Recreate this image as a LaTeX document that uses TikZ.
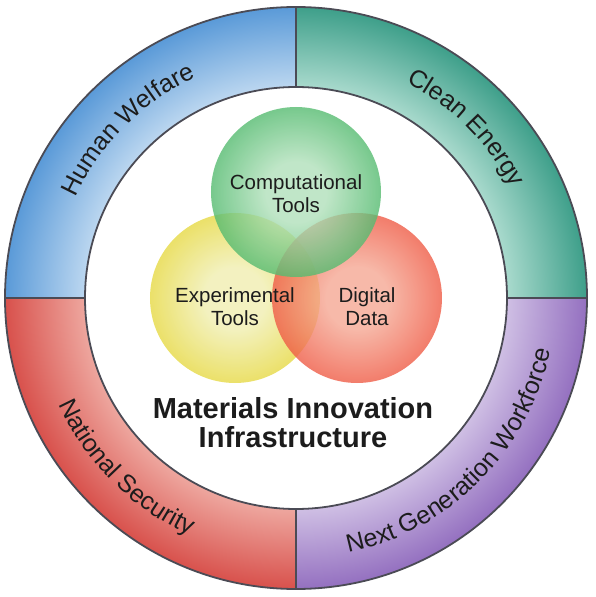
\documentclass[tikz,border=0pt]{standalone}
\usepackage{fontspec}
\setmainfont{Liberation Sans}
\usetikzlibrary{decorations.text}

% ring band colours (inner edge / outer edge)
\definecolor{blueIn}{HTML}{BCD7F0}
\definecolor{blueOut}{HTML}{5A9AD8}
\definecolor{tealIn}{HTML}{A9DACD}
\definecolor{tealOut}{HTML}{3E9F8A}
\definecolor{redIn}{HTML}{EEA79F}
\definecolor{redOut}{HTML}{D8514C}
\definecolor{purpIn}{HTML}{CFBFE4}
\definecolor{purpOut}{HTML}{9470C0}
% Venn circle colours (centre / rim)
\definecolor{greenC}{HTML}{B0E0BA}
\definecolor{greenE}{HTML}{55BB70}
\definecolor{yellC}{HTML}{F0EEB0}
\definecolor{yellE}{HTML}{E6D944}
\definecolor{orC}{HTML}{F5A894}
\definecolor{orE}{HTML}{EF5C46}
\definecolor{rimline}{HTML}{4B4B55}
\definecolor{ink}{HTML}{1C1C1C}

\pgfdeclareradialshading{bandblue}{\pgfpoint{0bp}{0bp}}{color(0bp)=(blueIn); color(18.1bp)=(blueIn); color(25bp)=(blueOut); color(50bp)=(blueOut)}
\pgfdeclareradialshading{bandteal}{\pgfpoint{0bp}{0bp}}{color(0bp)=(tealIn); color(18.1bp)=(tealIn); color(25bp)=(tealOut); color(50bp)=(tealOut)}
\pgfdeclareradialshading{bandred}{\pgfpoint{0bp}{0bp}}{color(0bp)=(redIn); color(18.1bp)=(redIn); color(25bp)=(redOut); color(50bp)=(redOut)}
\pgfdeclareradialshading{bandpurp}{\pgfpoint{0bp}{0bp}}{color(0bp)=(purpIn); color(18.1bp)=(purpIn); color(25bp)=(purpOut); color(50bp)=(purpOut)}
\pgfdeclareradialshading{ballgreen}{\pgfpoint{0bp}{0bp}}{color(0bp)=(greenC); color(9bp)=(greenC); color(25bp)=(greenE); color(50bp)=(greenE)}
\pgfdeclareradialshading{ballyellow}{\pgfpoint{0bp}{0bp}}{color(0bp)=(yellC); color(9bp)=(yellC); color(25bp)=(yellE); color(50bp)=(yellE)}
\pgfdeclareradialshading{ballred}{\pgfpoint{0bp}{0bp}}{color(0bp)=(orC); color(9bp)=(orC); color(25bp)=(orE); color(50bp)=(orE)}

\def\rin{211}
\def\rout{291}
\def\rtop{242}
\def\rbot{260}

\tikzset{
  rimstroke/.style={draw=rimline, line width=1.8pt},
  vennlabel/.style={text=ink, align=center, font=\fontsize{20.5}{23}\selectfont},
  titlelabel/.style={text=ink, align=center, font=\bfseries\fontsize{29}{29}\selectfont},
  ringlabel/.style={decorate, decoration={text along path, text align=center,
      text color=ink, text={|\fontsize{25}{25}\selectfont|#1}}},
  ball/.style={shading=#1, fill opacity=0.8}
}

\newcommand{\quadpath}[1]{(#1:\rin) -- (#1:\rout) arc[start angle=#1, end angle=#1+90, radius=\rout] -- (#1+90:\rin) arc[start angle=#1+90, end angle=#1, radius=\rin] -- cycle}

\begin{document}
\begin{tikzpicture}[x=1pt, y=1pt]
  \useasboundingbox (-296,-299) rectangle (299,298);

  % four shaded quadrants of the outer ring
  \foreach \a/\sh in {90/bandblue, 0/bandteal, 180/bandred, 270/bandpurp}{
    \begin{scope}
      \clip \quadpath{\a};
      \shade[shading=\sh] (0,0) circle (\rout);
    \end{scope}
  }

  % ring outlines and dividers
  \draw[rimstroke] (0,0) circle (\rout);
  \draw[rimstroke] (0,0) circle (\rin);
  \foreach \a in {0,90,180,270}
    \draw[rimstroke] (\a:\rin) -- (\a:\rout);

  % ring labels
  \path[ringlabel={Human Welfare}] (180:\rtop) arc[start angle=180, end angle=90, radius=\rtop];
  \path[ringlabel={Clean Energy}] (90:\rtop) arc[start angle=90, end angle=0, radius=\rtop];
  \path[ringlabel={National Security}] (180:\rbot) arc[start angle=180, end angle=270, radius=\rbot];
  \path[ringlabel={Next Generation Workforce}] (270:\rbot) arc[start angle=270, end angle=360, radius=\rbot];

  % Venn circles
  \shade[ball=ballyellow] (-61,0) circle (85);
  \shade[ball=ballred] (61,0) circle (85);
  \shade[ball=ballgreen] (0,106) circle (85);

  % Venn labels
  \node[vennlabel] (comp) at (0,104) {Computational\\Tools};
  \node[vennlabel] (expt) at (-61,-9) {Experimental\\Tools};
  \node[vennlabel] (data) at (71,-9) {Digital\\Data};

  % title
  \node[titlelabel] (title) at (-3,-125) {Materials Innovation\\Infrastructure};
\end{tikzpicture}
\end{document}
